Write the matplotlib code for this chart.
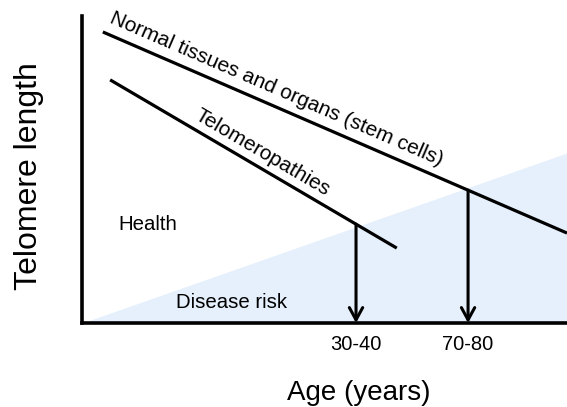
import matplotlib
matplotlib.use("Agg")
import matplotlib.pyplot as plt
import numpy as np

plt.rcParams['font.family'] = ['Liberation Sans', 'DejaVu Sans']

# schematic data (arbitrary units, x = age, y = telomere length)
normal_x = [4.3, 100.0]
normal_y = [94.8, 29.3]
telo_x = [5.8, 64.9]
telo_y = [79.2, 24.4]
risk_x = [0.0, 100.0]
risk_y = [0.0, 55.4]
age_ticks = [56.5, 79.6]
age_labels = ["30-40", "70-80"]

fig = plt.figure(figsize=(5.67, 4.07), dpi=100)
ax = fig.add_axes([82/567, 84/407, 485/567, 307/407])
ax.set_xlim(0, 100)
ax.set_ylim(0, 100)

# disease-risk wedge
ax.fill_between(risk_x, 0, risk_y, color='#e5f0fc', lw=0, zorder=1)

ax.plot(normal_x, normal_y, color='black', lw=2.3, solid_capstyle='butt', zorder=3)
ax.plot(telo_x, telo_y, color='black', lw=2.3, solid_capstyle='butt', zorder=3)

# arrows from each curve down to the age axis
arrow_tops = [np.interp(age_ticks[0], telo_x, telo_y),
              np.interp(age_ticks[1], normal_x, normal_y)]
for xa, ya in zip(age_ticks, arrow_tops):
    ax.annotate('', xy=(xa, 0), xytext=(xa, ya),
                arrowprops=dict(arrowstyle='->,head_length=0.55,head_width=0.3',
                                color='black', lw=2.2, mutation_scale=16,
                                shrinkA=0, shrinkB=0), zorder=4)

def line_label(text, xs, ys, xpos, off):
    p1 = ax.transData.transform((xs[0], ys[0]))
    p2 = ax.transData.transform((xs[1], ys[1]))
    ang = np.arctan2(p2[1] - p1[1], p2[0] - p1[0])
    ypos = np.interp(xpos, xs, ys)
    ax.annotate(text, xy=(xpos, ypos),
                xytext=(-np.sin(ang) * off, np.cos(ang) * off),
                textcoords='offset points', rotation=np.degrees(ang),
                rotation_mode='anchor', ha='left', va='baseline',
                fontsize=15, zorder=5)

line_label("Normal tissues and organs (stem cells)", normal_x, normal_y, 4.5, 7.9)
line_label("Telomeropathies", telo_x, telo_y, 22.0, 6.5)

ax.text(13.6, 32.2, "Health", fontsize=14.7, ha='center', va='center')
ax.text(30.9, 6.8, "Disease risk", fontsize=14.7, ha='center', va='center')

ax.set_xticks(age_ticks)
ax.set_xticklabels(age_labels)
ax.set_yticks([])
ax.tick_params(axis='x', length=0, pad=9, labelsize=14.5)

for s in ['top', 'right']:
    ax.spines[s].set_visible(False)
for s in ['left', 'bottom']:
    ax.spines[s].set_linewidth(2.6)

ax.set_xlabel("Age (years)", fontsize=20)
ax.xaxis.set_label_coords(0.571, -0.228)
ax.xaxis.label.set_va('center')
ax.set_ylabel("Telomere length", fontsize=23)
ax.yaxis.set_label_coords(-0.109, 0.477)
ax.yaxis.label.set_va('center')

plt.savefig("out.png", dpi=100)
